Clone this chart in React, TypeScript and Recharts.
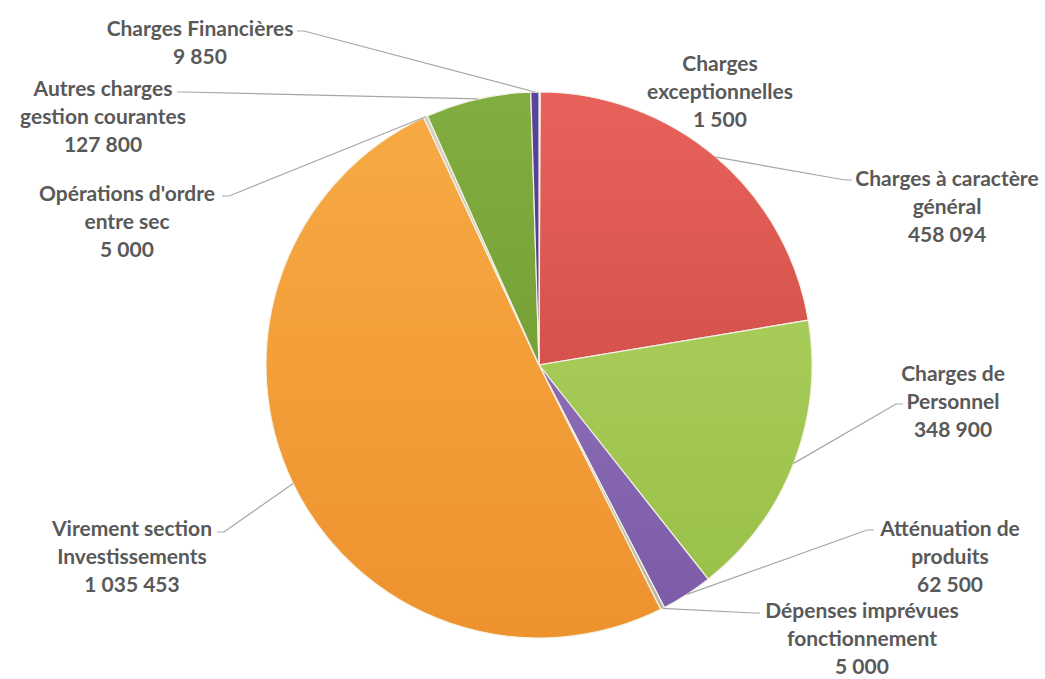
import React from 'react';
import { PieChart, Pie, Cell } from 'recharts';

// budget de fonctionnement, dans l'ordre des parts (sens horaire depuis midi)
const NAMES = [
  'Charges\nexceptionnelles',
  'Charges à caractère\ngénéral',
  'Charges de\nPersonnel',
  'Atténuation de\nproduits',
  'Dépenses imprévues\nfonctionnement',
  'Virement section\nInvestissements',
  "Opérations d'ordre\nentre sec",
  'Autres charges\ngestion courantes',
  'Charges Financières',
];
const VALUES = [1500, 458094, 348900, 62500, 5000, 1035453, 5000, 127800, 9850];

const COLORS = [
  ['#5b6fb5', '#44579a'],
  ['#e8625b', '#c2433d'],
  ['#b3d466', '#97bf45'],
  ['#9c7dc4', '#7a5aa6'],
  ['#d9d2c2', '#bdb5a3'],
  ['#f7ab45', '#ee922e'],
  ['#d9d2c2', '#bdb5a3'],
  ['#82ad40', '#6a952f'],
  ['#5a449c', '#44327d'],
];

// où poser chaque étiquette (centre du texte, début de la ligne de rappel)
const LABEL_POS = [
  { x: 720, y: 62, lx: null, ly: null },
  { x: 947, y: 177, lx: 852, ly: 180 },
  { x: 953, y: 372, lx: 903, ly: 404 },
  { x: 950, y: 527, lx: 874, ly: 530 },
  { x: 862, y: 609, lx: 760, ly: 613 },
  { x: 132, y: 527, lx: 217, ly: 532 },
  { x: 127, y: 192, lx: 222, ly: 196 },
  { x: 103, y: 87, lx: 177, ly: 92 },
  { x: 200, y: 27, lx: 297, ly: 31 },
];

const data = NAMES.map((name, i) => ({ name, value: VALUES[i] }));

const fmt = (v: number) => v.toString().replace(/\B(?=(\d{3})+(?!\d))/g, ' ');

const RAD = Math.PI / 180;
const LINE_H = 28;

const renderLabel = (props: any) => {
  const { cx, cy, midAngle, outerRadius, index } = props;
  const pos = LABEL_POS[index];
  const lines = [...NAMES[index].split('\n'), fmt(VALUES[index])];
  const rx = cx + outerRadius * Math.cos(-midAngle * RAD);
  const ry = cy + outerRadius * Math.sin(-midAngle * RAD);
  let leader = null;
  if (pos.lx != null) {
    const dir = pos.lx < cx ? 1 : -1;
    const pts = `${rx},${ry} ${pos.lx + dir * 7},${pos.ly} ${pos.lx},${pos.ly}`;
    leader = <polyline points={pts} fill="none" stroke="#a6a6a6" strokeWidth={1.2} />;
  }
  return (
    <g key={`lbl-${index}`}>
      {leader}
      <text
        x={pos.x}
        y={pos.y}
        textAnchor="middle"
        dominantBaseline="central"
        fill="#595959"
        fontFamily="Lato, 'Open Sans', sans-serif"
        fontWeight={700}
        fontSize={21}
      >
        {lines.map((l, j) => (
          <tspan key={j} x={pos.x} y={pos.y + j * LINE_H}>
            {l}
          </tspan>
        ))}
      </text>
    </g>
  );
};

export default function App() {
  return (
    <div style={{ width: 1045, height: 679, background: '#fff' }}>
      <style>{'body{margin:0}'}</style>
      <PieChart width={1045} height={679} margin={{ top: 0, right: 0, bottom: 0, left: 0 }}>
        <defs>
          {COLORS.map((c, i) => (
            <linearGradient key={i} id={`g${i}`} gradientUnits="userSpaceOnUse" x1="0" y1="92" x2="0" y2="638">
              <stop offset="0%" stopColor={c[0]} />
              <stop offset="100%" stopColor={c[1]} />
            </linearGradient>
          ))}
        </defs>
        <Pie
          data={data}
          dataKey="value"
          nameKey="name"
          cx={539}
          cy={365}
          outerRadius={273}
          startAngle={90}
          endAngle={-270}
          label={renderLabel}
          labelLine={false}
          stroke="#f4f1e6"
          strokeWidth={1.2}
          isAnimationActive={false}
        >
          {data.map((d, i) => (
            <Cell key={`cell-${i}`} fill={`url(#g${i})`} />
          ))}
        </Pie>
      </PieChart>
    </div>
  );
}
